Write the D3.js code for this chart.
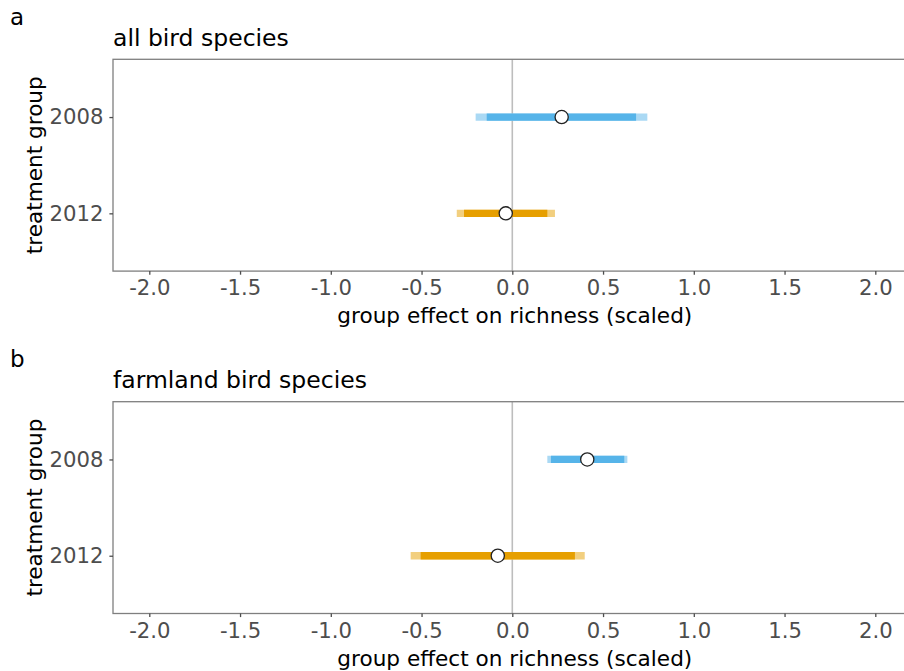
<!DOCTYPE html>
<html>
<head>
<meta charset="utf-8">
<script src="https://cdn.jsdelivr.net/npm/d3@7/dist/d3.min.js"></script>
<style>
  html, body { margin: 0; padding: 0; background: #fff; }
  svg { display: block; font-family: "DejaVu Sans", sans-serif; }
</style>
</head>
<body>
<svg id="chart" width="904" height="671"></svg>
<script>
// Treatment groups (y axis categories)
const groups = ["2008", "2012"];
const groupColors = ["#56B4E9", "#E69F00"];
const groupColorsLight = ["#aad9f4", "#f2cf7f"];

// Panel a: all bird species
const allEst  = [0.272, -0.036];
const allLo95 = [-0.202, -0.306];
const allHi95 = [0.744, 0.235];
const allLo90 = [-0.141, -0.266];
const allHi90 = [0.682, 0.193];

// Panel b: farmland bird species
const farmEst  = [0.413, -0.080];
const farmLo95 = [0.193, -0.560];
const farmHi95 = [0.634, 0.399];
const farmLo90 = [0.213, -0.505];
const farmHi90 = [0.617, 0.345];

const xTicks = [-2.0, -1.5, -1.0, -0.5, 0.0, 0.5, 1.0, 1.5, 2.0];
const xDomain = [-2.2, 2.2];

const panels = [
  { tag: "a", title: "all bird species", top: 59.3,
    est: allEst, lo95: allLo95, hi95: allHi95, lo90: allLo90, hi90: allHi90 },
  { tag: "b", title: "farmland bird species", top: 401.7,
    est: farmEst, lo95: farmLo95, hi95: farmHi95, lo90: farmLo90, hi90: farmHi90 }
];

const svg = d3.select("#chart");
const left = 113, right = 911.6, panelH = 211.8;

const x = d3.scaleLinear().domain(xDomain).range([left, right]);

panels.forEach(p => {
  const top = p.top, bottom = top + panelH;
  const y = d3.scalePoint().domain(groups).range([top, bottom]).padding(0.6);
  const g = svg.append("g");

  // panel tag and title
  g.append("text").attr("x", 10).attr("y", top - 34.5)
    .attr("font-size", 23).attr("fill", "#000").text(p.tag);
  g.append("text").attr("x", 113).attr("y", top - 13.8)
    .attr("font-size", 23.5).attr("fill", "#000").text(p.title);

  // zero reference line
  g.append("line")
    .attr("x1", x(0)).attr("x2", x(0)).attr("y1", top).attr("y2", bottom)
    .attr("stroke", "#bdbdbd").attr("stroke-width", 1.6);

  // outer interval
  g.selectAll(".outer").data(groups).join("line")
    .attr("x1", (d, i) => x(p.lo95[i])).attr("x2", (d, i) => x(p.hi95[i]))
    .attr("y1", d => y(d)).attr("y2", d => y(d))
    .attr("stroke", (d, i) => groupColorsLight[i]).attr("stroke-width", 7.3);

  // inner interval
  g.selectAll(".inner").data(groups).join("line")
    .attr("x1", (d, i) => x(p.lo90[i])).attr("x2", (d, i) => x(p.hi90[i]))
    .attr("y1", d => y(d)).attr("y2", d => y(d))
    .attr("stroke", (d, i) => groupColors[i]).attr("stroke-width", 7.3);

  // point estimates
  g.selectAll(".pt").data(groups).join("circle")
    .attr("cx", (d, i) => x(p.est[i])).attr("cy", d => y(d)).attr("r", 6.6)
    .attr("fill", "#fff").attr("stroke", "#222").attr("stroke-width", 1.3);

  // panel border
  g.append("rect").attr("x", left).attr("y", top)
    .attr("width", right - left).attr("height", panelH)
    .attr("fill", "none").attr("stroke", "#7f7f7f").attr("stroke-width", 1.3);

  // x axis
  const xa = g.append("g").attr("transform", `translate(0,${bottom})`)
    .call(d3.axisBottom(x).tickValues(xTicks).tickSize(3.6).tickPadding(5.5)
      .tickFormat(d => d3.format(".1f")(d).replace("\u2212", "-")));
  xa.select(".domain").remove();
  xa.selectAll("line").attr("stroke", "#4d4d4d").attr("stroke-width", 1.3);
  xa.selectAll("text").attr("font-size", 21.2).attr("fill", "#4d4d4d")
    .attr("font-family", "DejaVu Sans");

  // y axis
  const ya = g.append("g").attr("transform", `translate(${left},0)`)
    .call(d3.axisLeft(y).tickSize(3.6).tickPadding(6));
  ya.select(".domain").remove();
  ya.selectAll("line").attr("stroke", "#4d4d4d").attr("stroke-width", 1.3);
  ya.selectAll("text").attr("font-size", 21.2).attr("fill", "#4d4d4d")
    .attr("font-family", "DejaVu Sans");

  // axis titles
  g.append("text").attr("x", (left + 911.6) / 2 + 2.5).attr("y", bottom + 52)
    .attr("text-anchor", "middle").attr("font-size", 21.6).attr("fill", "#000")
    .text("group effect on richness (scaled)");
  g.append("text")
    .attr("transform", `translate(42,${(top + bottom) / 2}) rotate(-90)`)
    .attr("text-anchor", "middle").attr("font-size", 21.6).attr("fill", "#000")
    .text("treatment group");
});
</script>
</body>
</html>
